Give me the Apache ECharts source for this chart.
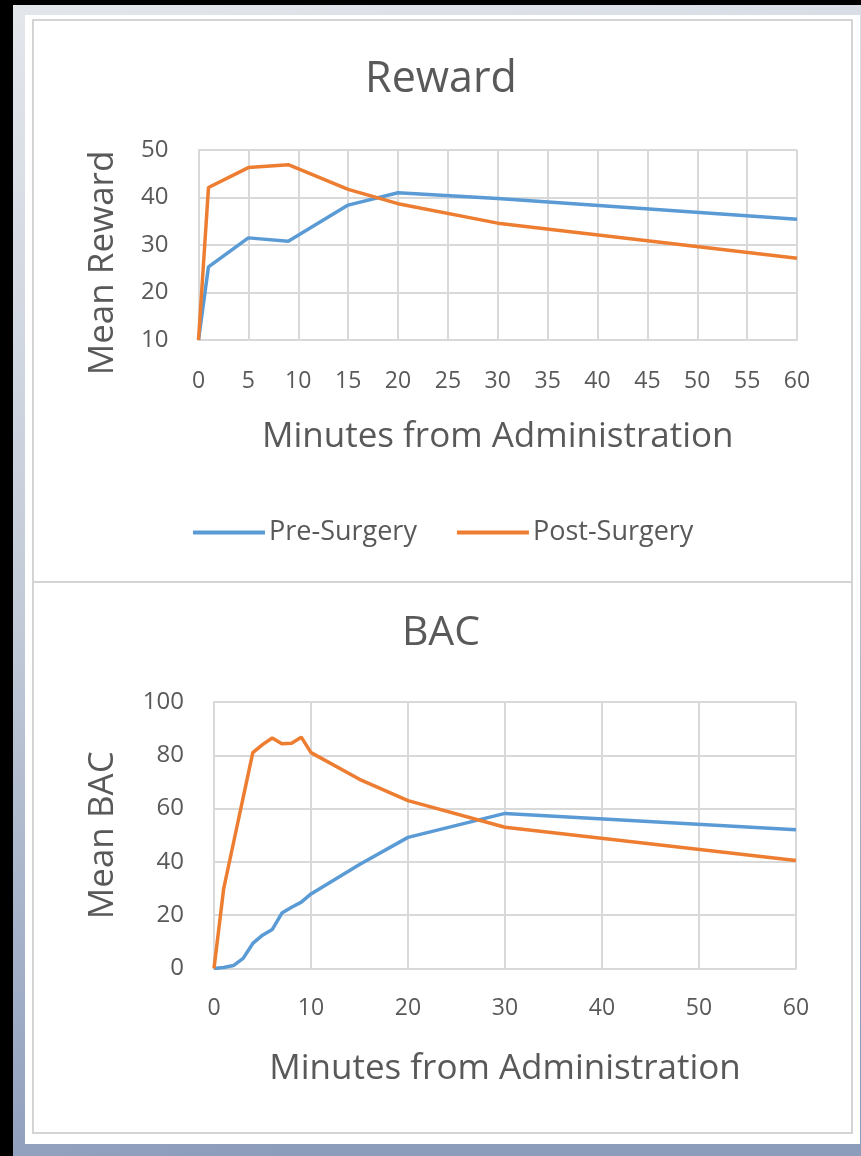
<!DOCTYPE html>
<html>
<head>
<meta charset="utf-8">
<script src="https://cdn.jsdelivr.net/npm/echarts@6/dist/echarts.min.js"></script>
<style>
html,body{margin:0;padding:0;background:#000;}
#c{width:861px;height:1156px;}
</style>
</head>
<body>
<div id="c"></div>
<script>
// Top chart: Reward
var rewardTime = [0, 1, 5, 9, 15, 20, 30, 60];
var rewardPre  = [10, 25.4, 31.5, 30.8, 38.4, 41.0, 39.8, 35.4];
var rewardPost = [10, 42.1, 46.3, 46.9, 41.7, 38.7, 34.6, 27.2];
// Bottom chart: BAC
var bacTime = [0, 1, 2, 3, 4, 5, 6, 7, 8, 9, 10, 15, 20, 30, 60];
var bacPre  = [0, 0.4, 1.1, 3.8, 9.4, 12.5, 14.6, 20.8, 23, 24.9, 28, 39, 49.2, 58.2, 52.1];
var bacPost = [0, 30, 47, 64, 81, 84, 86.5, 84.3, 84.5, 86.8, 81, 71, 63, 53, 40.5];

var seriesNames = ['Pre-Surgery', 'Post-Surgery'];
var titles = ['Reward', 'BAC'];
var xTitle = 'Minutes from Administration';
var yTitles = ['Mean Reward', 'Mean BAC'];

function pairs(xs, ys) { return xs.map(function (x, i) { return [x, ys[i]]; }); }

var FONT = 'Open Sans';
var TXT = '#595959';
var GRID = '#d9d9d9';
var BLUE = '#5b9bd5';
var ORANGE = '#ed7d31';

function xAxis(idx, interval, margin, nameGap) {
  return {
    type: 'value', gridIndex: idx, min: 0, max: 60, interval: interval,
    axisLine: { show: true, lineStyle: { color: GRID, width: 2 } },
    axisTick: { show: false },
    splitLine: { show: true, lineStyle: { color: GRID, width: 2 } },
    axisLabel: { color: TXT, fontFamily: FONT, fontSize: 23, margin: margin },
    name: xTitle, nameLocation: 'middle', nameGap: nameGap,
    nameTextStyle: { color: TXT, fontFamily: FONT, fontSize: 35 }
  };
}
function yAxis(idx, min, max, interval, nameGap, namePad) {
  return {
    type: 'value', gridIndex: idx, min: min, max: max, interval: interval,
    axisLine: { show: true, lineStyle: { color: GRID, width: 2 } },
    axisTick: { show: false },
    splitLine: { show: true, lineStyle: { color: GRID, width: 2 } },
    axisLabel: { color: TXT, fontFamily: FONT, fontSize: 24, margin: 30, align: 'right' },
    name: yTitles[idx], nameLocation: 'middle', nameRotate: 90, nameGap: nameGap,
    nameMoveOverlap: false,
    nameTextStyle: { color: TXT, fontFamily: FONT, fontSize: 35, padding: namePad }
  };
}
function lineSeries(name, data, xi, color) {
  return {
    type: 'line', name: name, data: data, xAxisIndex: xi, yAxisIndex: xi,
    showSymbol: false, symbol: 'none', smooth: false,
    lineStyle: { color: color, width: 3.5 }, itemStyle: { color: color },
    emphasis: { disabled: true }, animation: false
  };
}

var chart = echarts.init(document.getElementById('c'), null, { renderer: 'canvas' });
chart.setOption({
  backgroundColor: '#000',
  animation: false,
  graphic: [
    { type: 'rect', z: -10, shape: { x: 13, y: 5, width: 848, height: 1151 },
      style: { fill: new echarts.graphic.LinearGradient(0, 0, 0.3, 1, [
        { offset: 0, color: '#e3e6eb' }, { offset: 0.5, color: '#c3cbd8' }, { offset: 1, color: '#8c9cbb' }]) } },
    { type: 'rect', z: -9, shape: { x: 25, y: 15, width: 835, height: 1129 }, style: { fill: '#ffffff' } },
    { type: 'rect', z: -8, shape: { x: 33, y: 20, width: 819, height: 1113 },
      style: { fill: 'none', stroke: '#d4d4d4', lineWidth: 2 } },
    { type: 'line', z: -8, shape: { x1: 33, y1: 582, x2: 852, y2: 582 },
      style: { stroke: '#d4d4d4', lineWidth: 2 } }
  ],
  title: [
    { text: titles[0], left: 441, top: 58, textAlign: 'center', padding: 0,
      textStyle: { color: TXT, fontFamily: FONT, fontSize: 43, fontWeight: 'normal' } },
    { text: titles[1], left: 441, top: 613, textAlign: 'center', padding: 0,
      textStyle: { color: TXT, fontFamily: FONT, fontSize: 41, fontWeight: 'normal' } }
  ],
  legend: {
    data: seriesNames, top: 519, left: 193, padding: 0,
    icon: 'rect', itemWidth: 72, itemHeight: 4, itemGap: 40,
    textStyle: { color: TXT, fontFamily: FONT, fontSize: 27, padding: [0, 0, 0, -1] }
  },
  grid: [
    { left: 198.5, top: 150, width: 598.5, height: 190 },
    { left: 214, top: 702, width: 582, height: 266.5 }
  ],
  xAxis: [xAxis(0, 5, 30, 80), xAxis(1, 10, 28, 83)],
  yAxis: [yAxis(0, 10, 50, 10, 78, [0, 36, 0, 0]), yAxis(1, 0, 100, 20, 93, 0)],
  series: [
    lineSeries(seriesNames[0], pairs(rewardTime, rewardPre), 0, BLUE),
    lineSeries(seriesNames[1], pairs(rewardTime, rewardPost), 0, ORANGE),
    lineSeries(seriesNames[0], pairs(bacTime, bacPre), 1, BLUE),
    lineSeries(seriesNames[1], pairs(bacTime, bacPost), 1, ORANGE)
  ]
});
</script>
</body>
</html>
